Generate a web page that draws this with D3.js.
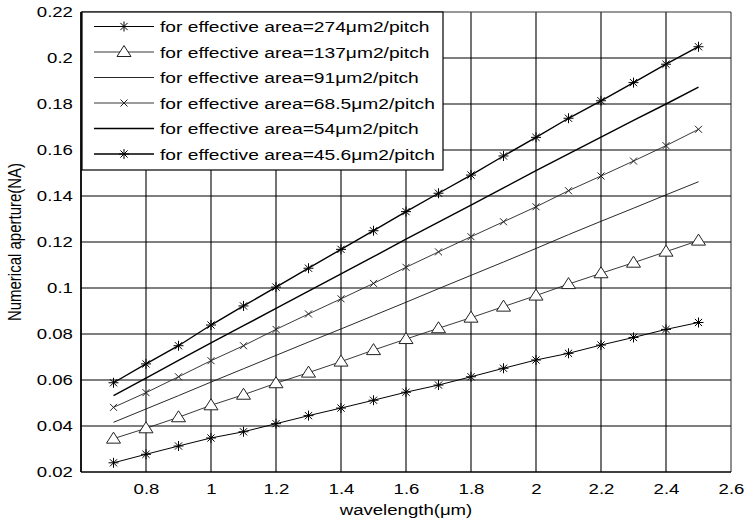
<!DOCTYPE html>
<html><head><meta charset="utf-8">
<script src="https://cdn.jsdelivr.net/npm/d3@7"></script>
<style>
body{margin:0;background:#fff}
svg{display:block}
text{font-family:"Liberation Sans",Arial,sans-serif;fill:#000}
</style>
</head><body>
<svg id="chart" width="749" height="525"></svg>
<script>
// ---------- data ----------
const wavelength = [0.7,0.8,0.9,1.0,1.1,1.2,1.3,1.4,1.5,1.6,1.7,1.8,1.9,2.0,2.1,2.2,2.3,2.4,2.5];
const na274  = [0.0240,0.0277,0.0313,0.0348,0.0375,0.0410,0.0445,0.0478,0.0512,0.0547,0.0578,0.0614,0.0651,0.0687,0.0716,0.0752,0.0785,0.0820,0.0850];
const na137  = [0.0345,0.0390,0.0438,0.0490,0.0536,0.0586,0.0632,0.0680,0.0730,0.0778,0.0825,0.0871,0.0919,0.0967,0.1017,0.1064,0.1110,0.1158,0.1206];
const na91   = [0.0416,0.0474,0.0532,0.0591,0.0649,0.0707,0.0765,0.0822,0.0880,0.0938,0.0997,0.1055,0.1113,0.1172,0.1232,0.1290,0.1347,0.1405,0.1462];
const na68_5 = [0.0481,0.0545,0.0614,0.0684,0.0749,0.0820,0.0887,0.0953,0.1020,0.1090,0.1157,0.1223,0.1288,0.1353,0.1423,0.1487,0.1552,0.1619,0.1690];
const na54   = [0.0532,0.0608,0.0685,0.0761,0.0836,0.0911,0.0986,0.1061,0.1136,0.1212,0.1286,0.1360,0.1435,0.1510,0.1583,0.1656,0.1729,0.1800,0.1873];
const na45_6 = [0.0588,0.0670,0.0749,0.0839,0.0922,0.1004,0.1086,0.1168,0.1249,0.1332,0.1412,0.1491,0.1574,0.1655,0.1738,0.1814,0.1893,0.1973,0.2049];

const seriesLabels = [
  "for effective area=274\u03bcm2/pitch",
  "for effective area=137\u03bcm2/pitch",
  "for effective area=91\u03bcm2/pitch",
  "for effective area=68.5\u03bcm2/pitch",
  "for effective area=54\u03bcm2/pitch",
  "for effective area=45.6\u03bcm2/pitch"
];
const xTickValues = [0.8,1.0,1.2,1.4,1.6,1.8,2.0,2.2,2.4,2.6];
const xTickLabels = ["0.8","1","1.2","1.4","1.6","1.8","2","2.2","2.4","2.6"];
const yTickValues = [0.02,0.04,0.06,0.08,0.10,0.12,0.14,0.16,0.18,0.20,0.22];
const yTickLabels = ["0.02","0.04","0.06","0.08","0.1","0.12","0.14","0.16","0.18","0.2","0.22"];
const xTitle = "wavelength(\u03bcm)";
const yTitle = "Numerical aperture(NA)";

// ---------- styles ----------
const seriesValues = [na274, na137, na91, na68_5, na54, na45_6];
const seriesStyle = [
  {marker:"star", width:1.0, color:"#000"},
  {marker:"tri",  width:0.9, color:"#222"},
  {marker:"none", width:0.9, color:"#111"},
  {marker:"x",    width:0.9, color:"#222"},
  {marker:"none", width:1.4, color:"#000"},
  {marker:"star", width:1.4, color:"#000"}
];
const SX = 1.24;   // horizontal stretch of text in the reference
const FS = 15;

const svg = d3.select("#chart");
const L = 81, R = 731, T = 12, B = 472;
const x = d3.scaleLinear().domain([0.6,2.6]).range([L,R]);
const y = d3.scaleLinear().domain([0.02,0.22]).range([B,T]);

// grid
const grid = svg.append("g").attr("stroke","#000").attr("stroke-width",1.1);
grid.selectAll("line.v").data(xTickValues.filter(v=>v<2.59)).enter().append("line")
  .attr("x1",d=>x(d)).attr("x2",d=>x(d)).attr("y1",T).attr("y2",B);
grid.selectAll("line.h").data(yTickValues.filter(v=>v>0.021 && v<0.219)).enter().append("line")
  .attr("x1",L).attr("x2",R).attr("y1",d=>y(d)).attr("y2",d=>y(d));

// axes
const xAxis = svg.append("g").attr("transform",`translate(0,${B})`)
  .call(d3.axisBottom(x).tickValues(xTickValues).tickFormat((d,i)=>xTickLabels[i]).tickSize(0).tickPadding(11));
const yAxis = svg.append("g").attr("transform",`translate(${L},0)`)
  .call(d3.axisLeft(y).tickValues(yTickValues).tickFormat((d,i)=>yTickLabels[i]).tickSize(0).tickPadding(6.5));
[xAxis,yAxis].forEach(a=>{
  a.select(".domain").remove();
  a.selectAll("text").attr("font-size",FS).attr("font-family",'"Liberation Sans",Arial,sans-serif')
    .attr("fill","#000").attr("transform",`scale(${SX},1)`);
});

// frame
svg.append("line").attr("x1",L).attr("x2",R).attr("y1",T).attr("y2",T).attr("stroke","#333").attr("stroke-width",1);
svg.append("line").attr("x1",R).attr("x2",R).attr("y1",T).attr("y2",B).attr("stroke","#222").attr("stroke-width",1);
svg.append("line").attr("x1",L).attr("x2",R).attr("y1",B).attr("y2",B).attr("stroke","#000").attr("stroke-width",1.6);
svg.append("line").attr("x1",L).attr("x2",L).attr("y1",T).attr("y2",B).attr("stroke","#000").attr("stroke-width",1.8);

// titles
svg.append("g").attr("transform",`translate(${(L+R)/2},515) scale(${SX},1)`)
  .append("text").attr("text-anchor","middle").attr("font-size",FS).text(xTitle);
svg.append("g").attr("transform",`translate(21,${(T+B)/2}) rotate(-90) scale(1,${SX})`)
  .append("text").attr("text-anchor","middle").attr("font-size",FS).text(yTitle);

// markers
const markerPath = {
  star:"M-5,0H5M0,-5V5M-3.6,-3.6L3.6,3.6M-3.6,3.6L3.6,-3.6",
  x:"M-3.5,-3.5L3.5,3.5M-3.5,3.5L3.5,-3.5",
  tri:"M0,-6.5L7,4.5L-7,4.5Z"
};
function drawMarker(g, type, color){
  if(type==="none") return;
  g.append("path").attr("d",markerPath[type])
    .attr("fill", type==="tri" ? "#fff" : "none")
    .attr("stroke",color).attr("stroke-width",1);
}

// series
const line = d3.line().x(d=>x(d[0])).y(d=>y(d[1]));
seriesValues.forEach((vals,i)=>{
  const st = seriesStyle[i];
  const pts = wavelength.map((w,j)=>[w,vals[j]]);
  svg.append("path").datum(pts).attr("d",line).attr("fill","none")
    .attr("stroke",st.color).attr("stroke-width",st.width);
  if(st.marker!=="none"){
    svg.append("g").selectAll("g").data(pts).enter().append("g")
      .attr("transform",d=>`translate(${x(d[0])},${y(d[1])})`)
      .each(function(){ drawMarker(d3.select(this), st.marker, st.color); });
  }
});

// legend
const lg = svg.append("g");
lg.append("rect").attr("x",82).attr("y",12).attr("width",361).attr("height",158)
  .attr("fill","#fff").attr("stroke","#000").attr("stroke-width",1.2);
seriesLabels.forEach((lab,i)=>{
  const st = seriesStyle[i];
  const yy = 26.5 + i*25.5;
  lg.append("line").attr("x1",94).attr("x2",154).attr("y1",yy).attr("y2",yy)
    .attr("stroke",st.color).attr("stroke-width",st.width);
  drawMarker(lg.append("g").attr("transform",`translate(124,${yy})`), st.marker, st.color);
  lg.append("g").attr("transform",`translate(160,${yy+5.5}) scale(${SX},1)`)
    .append("text").attr("font-size",FS+0.5).text(lab);
});
</script>
</body></html>
